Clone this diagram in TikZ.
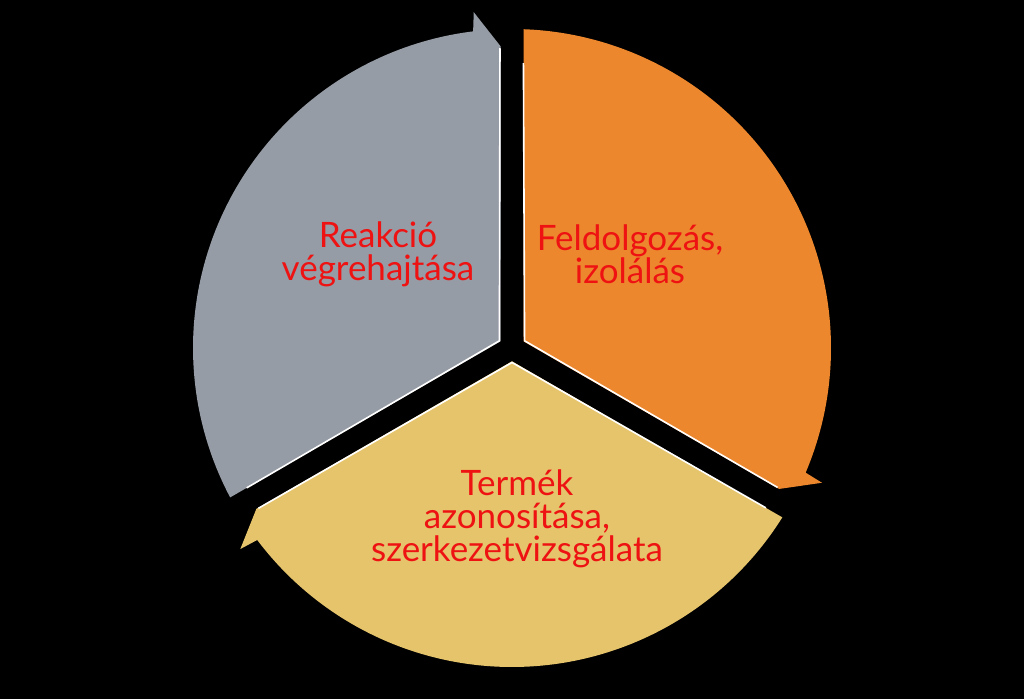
\documentclass[tikz,border=0pt]{standalone}
\usepackage{fontspec}
\setmainfont{Lato}
\usetikzlibrary{calc}
\definecolor{segGray}{RGB}{150,156,165}
\definecolor{segOrange}{RGB}{237,135,45}
\definecolor{segYellow}{RGB}{229,196,108}
\definecolor{txtRed}{RGB}{238,18,18}
\tikzset{
  seg_g/.style = {fill=segGray},
  seg_o/.style = {fill=segOrange},
  seg_y/.style = {fill=segYellow},
  bevel/.style = {draw=white, line width=1.6pt, line join=miter},
  seglabel/.style = {align=center, inner sep=0pt, text=txtRed, font=\fontsize{35}{33}\selectfont}
}
\begin{document}
\begin{tikzpicture}[x=1pt, y=1pt]
	\fill[black] (0,0) rectangle (1024,699);
	\useasboundingbox (0,0) rectangle (1024,699);
	\begin{scope}[shift={(512,351)}]
		% gray sector, arrow at the top
		\path[seg_g] (150:13.3) -- (207.93:319) arc[start angle=207.93, end angle=97, radius=319]
			-- (96.5:338) -- (92.18:302) -- cycle;
		% orange sector, arrow at the lower right
		\path[seg_o] (30:13.3) -- (87.93:319) arc[start angle=87.93, end angle=-23, radius=319]
			-- (-23.5:338) -- (-27.82:302) -- cycle;
		% yellow sector, arrow at the left
		\path[seg_y] (-90:13.3) -- (-32.07:319) arc[start angle=-32.07, end angle=-143, radius=319]
			-- (-143.5:338) -- (-147.82:302) -- cycle;
		% white edges along the gaps
		\draw[bevel] (207.8:300) -- (150:14.5) -- (92.3:300);
		\draw[bevel] (87.7:285) -- (30:14.5) -- (-27.7:300);
		\draw[bevel] (-32.2:300) -- (-90:14.5) -- (-147.7:300);
		\node[seglabel] (reakcio) at (-134,94) {Reakció\\végrehajtása};
		\node[seglabel] (feldolg) at (118,94) {Feldolgozás,\\izolálás};
		\node[seglabel] (termek) at (5,-171) {Termék\\azonosítása,\\szerkezetvizsgálata};
	\end{scope}
\end{tikzpicture}
\end{document}
